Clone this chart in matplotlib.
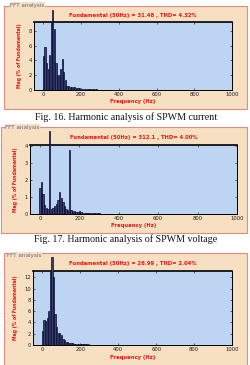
import numpy as np
import matplotlib.pyplot as plt
from matplotlib.patches import Rectangle

# spectrum bins are 50/6 Hz apart (6 cycles of 50 Hz), the 7th bin is the fundamental
BIN_HZ = 50 / 6
FUND_BIN = 6

current_mag = [4.6, 5.8, 3.7, 2.9, 4.7, 9.5, 10.8, 8.3, 3.6, 2.0, 2.0, 2.9, 4.2, 2.5,
               1.3, 0.5, 0.5, 0.45, 0.4, 0.4, 0.35, 0.3, 0.25, 0.25, 0.2, 0.2, 0.15,
               0.15, 0.15, 0.12, 0.1, 0.1, 0.1, 0.08, 0.08, 0.06, 0.05]
voltage_mag = [1.55, 1.85, 1.2, 0.55, 0.35, 0.3, 4.86, 0.3, 0.35, 0.45, 0.6, 0.85, 1.3,
               0.95, 0.7, 0.45, 0.3, 0.25, 3.75, 0.25, 0.2, 0.15, 0.1, 0.1, 0.2, 0.12,
               0.08, 0.06, 0.05, 0.05, 0.05, 0.04, 0.04, 0.04, 0.03, 0.03, 0.03]
third_mag = [2.5, 4.5, 4.3, 4.7, 6.0, 13.2, 15.5, 12.0, 5.5, 3.1, 2.2, 2.1, 1.8, 1.1,
             0.8, 0.6, 0.5, 0.4, 0.35, 0.3, 0.25, 0.2, 0.2, 0.15, 0.15, 0.12, 0.12,
             0.1, 0.1, 0.1, 0.08, 0.08, 0.08, 0.06, 0.06, 0.05, 0.05]

titles = ['Fundamental (50Hz) = 31.48 , THD= 4.32%',
          'Fundamental (50Hz) = 312.1 , THD= 4.00%',
          'Fundamental (50Hz) = 26.99 , THD= 2.04%']
captions = ['Fig. 16. Harmonic analysis of SPWM current',
            'Fig. 17. Harmonic analysis of SPWM voltage',
            None]
ylims = [9.2, 4.05, 13.1]
yticks = [[0, 2, 4, 6, 8], [0, 1, 2, 3, 4], [0, 2, 4, 6, 8, 10, 12]]
xticks = [0, 200, 400, 600, 800, 1000]

W, H = 251, 365
BEIGE = '#f7dfc2'
BORDER = '#e58a80'
AXBG = '#bdd4f2'
RED = '#f01010'

# pixel layout of each panel (box, axes, text rows)
layout = [
    dict(box=(4, 6, 247, 109), ax=(34, 22, 232, 90), label=(10, 5), title=15,
         xl=101, yl=19, cap=117),
    dict(box=(1, 127, 247, 233), ax=(30, 145, 237, 214), label=(5, 127), title=138,
         xl=226, yl=16, cap=239),
    dict(box=(4, 253, 247, 372), ax=(33, 271, 232, 345), label=(7, 255), title=264,
         xl=357, yl=16, cap=None),
]


def fx(x):
    return x / W


def fy(y):
    return 1 - y / H


fig = plt.figure(figsize=(W / 100, H / 100), dpi=100)
fig.patch.set_facecolor('white')

for i, mag in enumerate([current_mag, voltage_mag, third_mag]):
    L = layout[i]
    x0, y0, x1, y1 = L['box']
    fig.patches.append(Rectangle((fx(x0), fy(y1)), (x1 - x0) / W, (y1 - y0) / H,
                                 transform=fig.transFigure, facecolor=BEIGE,
                                 edgecolor=BORDER, lw=0.8, zorder=-5))
    fig.text(fx(L['label'][0]), fy(L['label'][1]), 'FFT analysis', fontsize=4.1,
             color='#626288', ha='left', va='center', zorder=-4,
             bbox=dict(facecolor=BEIGE, edgecolor='none', pad=0.3))

    a0, b0, a1, b1 = L['ax']
    ax = fig.add_axes([fx(a0), fy(b1), (a1 - a0) / W, (b1 - b0) / H], zorder=1)
    ax.set_facecolor(AXBG)
    freq = np.arange(len(mag)) * BIN_HZ
    bars = ax.bar(freq, mag, width=BIN_HZ * 0.8, color='#3a4866',
                  edgecolor='#08083a', linewidth=0.5, zorder=3)
    bars[FUND_BIN].set_clip_on(False)
    ax.set_xlim(-50, 1000)
    ax.set_ylim(0, ylims[i])
    ax.set_xticks(xticks)
    ax.set_yticks(yticks[i])
    ax.tick_params(labelsize=3.8, length=1.5, width=0.4, direction='in', pad=1.5,
                   top=True, right=True, labelcolor='#222222')
    for s in ax.spines.values():
        s.set_linewidth(0.7)
    ax.spines['top'].set_linewidth(1.2)

    fig.text(fx((a0 + a1) / 2), fy(L['title']), titles[i], fontsize=3.8,
             fontweight='bold', color=RED, ha='center', va='center')
    fig.text(fx((a0 + a1) / 2), fy(L['xl']), 'Frequency (Hz)', fontsize=3.8,
             fontweight='bold', color=RED, ha='center', va='center')
    fig.text(fx(L['yl']), fy((b0 + b1) / 2), 'Mag (% of Fundamental)', fontsize=3.3,
             fontweight='bold', color=RED, ha='center', va='center', rotation=90)
    if captions[i]:
        fig.text(fx(126), fy(L['cap']), captions[i], fontsize=7.2,
                 family='Liberation Serif', ha='center', va='center', color='#111111')

fig.savefig('out.png', dpi=100)
